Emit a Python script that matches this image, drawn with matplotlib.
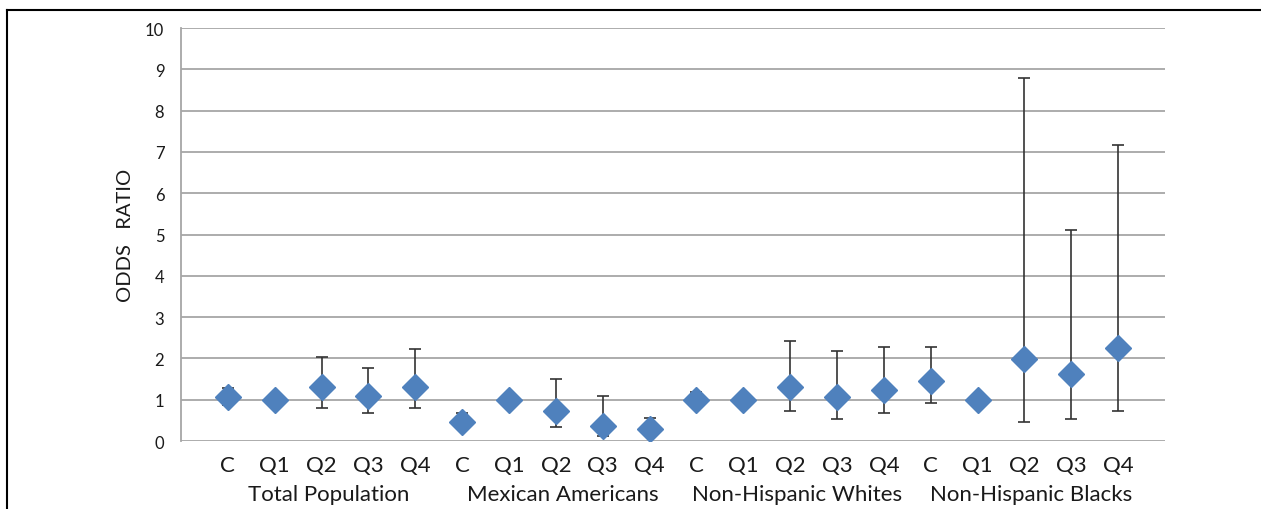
import matplotlib.pyplot as plt
import matplotlib.transforms as mtransforms
from matplotlib.lines import Line2D
import numpy as np

plt.rcParams["font.family"] = ["Lato", "DejaVu Sans"]

groups = ["Total Population", "Mexican Americans", "Non-Hispanic Whites", "Non-Hispanic Blacks"]
levels = ["C", "Q1", "Q2", "Q3", "Q4"]

# odds ratio and 95% CI per group, in order C, Q1..Q4
odds = [
    [1.06, 1.00, 1.30, 1.10, 1.32],
    [0.45, 1.00, 0.73, 0.37, 0.29],
    [1.00, 1.00, 1.32, 1.06, 1.24],
    [1.46, 1.00, 1.99, 1.62, 2.26],
]
ci_low = [
    [0.87, 1.00, 0.79, 0.68, 0.79],
    [0.33, 1.00, 0.35, 0.13, 0.12],
    [0.85, 1.00, 0.72, 0.53, 0.67],
    [0.91, 1.00, 0.45, 0.54, 0.73],
]
ci_high = [
    [1.28, 1.00, 2.03, 1.78, 2.23],
    [0.67, 1.00, 1.50, 1.08, 0.56],
    [1.19, 1.00, 2.41, 2.19, 2.28],
    [2.28, 1.00, 8.78, 5.11, 7.17],
]

blue = "#4F81BD"
text_color = "#1a1a1a"

fig = plt.figure(figsize=(12.61, 5.10), dpi=100)
ax = fig.add_axes([0.1435, 0.1333, 0.7804, 0.8098])

y = np.array(odds).ravel()
lo = np.array(ci_low).ravel()
hi = np.array(ci_high).ravel()
x = np.arange(1, len(y) + 1)

ax.errorbar(x, y, yerr=[y - lo, hi - y], fmt="none", ecolor="#333333",
            elinewidth=1.2, capsize=4, capthick=1.2, zorder=2)
ax.plot(x, y, linestyle="none", marker="D", markersize=13,
        color=blue, markeredgecolor=blue, zorder=3)

ax.set_xlim(0, len(y) + 1)
ax.set_ylim(0, 10)
ax.set_yticks(range(0, 11))
ax.set_xticks(x)
ax.set_xticklabels(levels * len(groups), fontsize=16, color=text_color)
ax.tick_params(axis="x", length=0, pad=10)
ax.tick_params(axis="y", length=0, pad=12, labelsize=12, labelcolor=text_color)

ax.grid(axis="y", color="#a6a6a6", linewidth=1.3)
ax.set_axisbelow(True)
for side in ["top", "right", "bottom"]:
    ax.spines[side].set_visible(False)
ax.spines["left"].set_color("#a6a6a6")
ax.spines["left"].set_linewidth(1.3)

ax.set_ylabel("ODDS   RATIO", fontsize=14.5, color=text_color, labelpad=8)

trans = mtransforms.blended_transform_factory(ax.transData, ax.transAxes)
for i, name in enumerate(groups):
    ax.text(i * 5 + 3.15, -0.128, name, transform=trans, ha="center", va="center",
            fontsize=16, color=text_color)

# frame lines of the original figure box
fig.add_artist(Line2D([7 / 1261, 1], [1 - 11 / 510, 1 - 11 / 510],
                      transform=fig.transFigure, color="black", linewidth=1.5))
fig.add_artist(Line2D([7 / 1261, 7 / 1261], [0, 1 - 11 / 510],
                      transform=fig.transFigure, color="black", linewidth=1.5))

fig.savefig("out.png", dpi=100)
plt.close()
